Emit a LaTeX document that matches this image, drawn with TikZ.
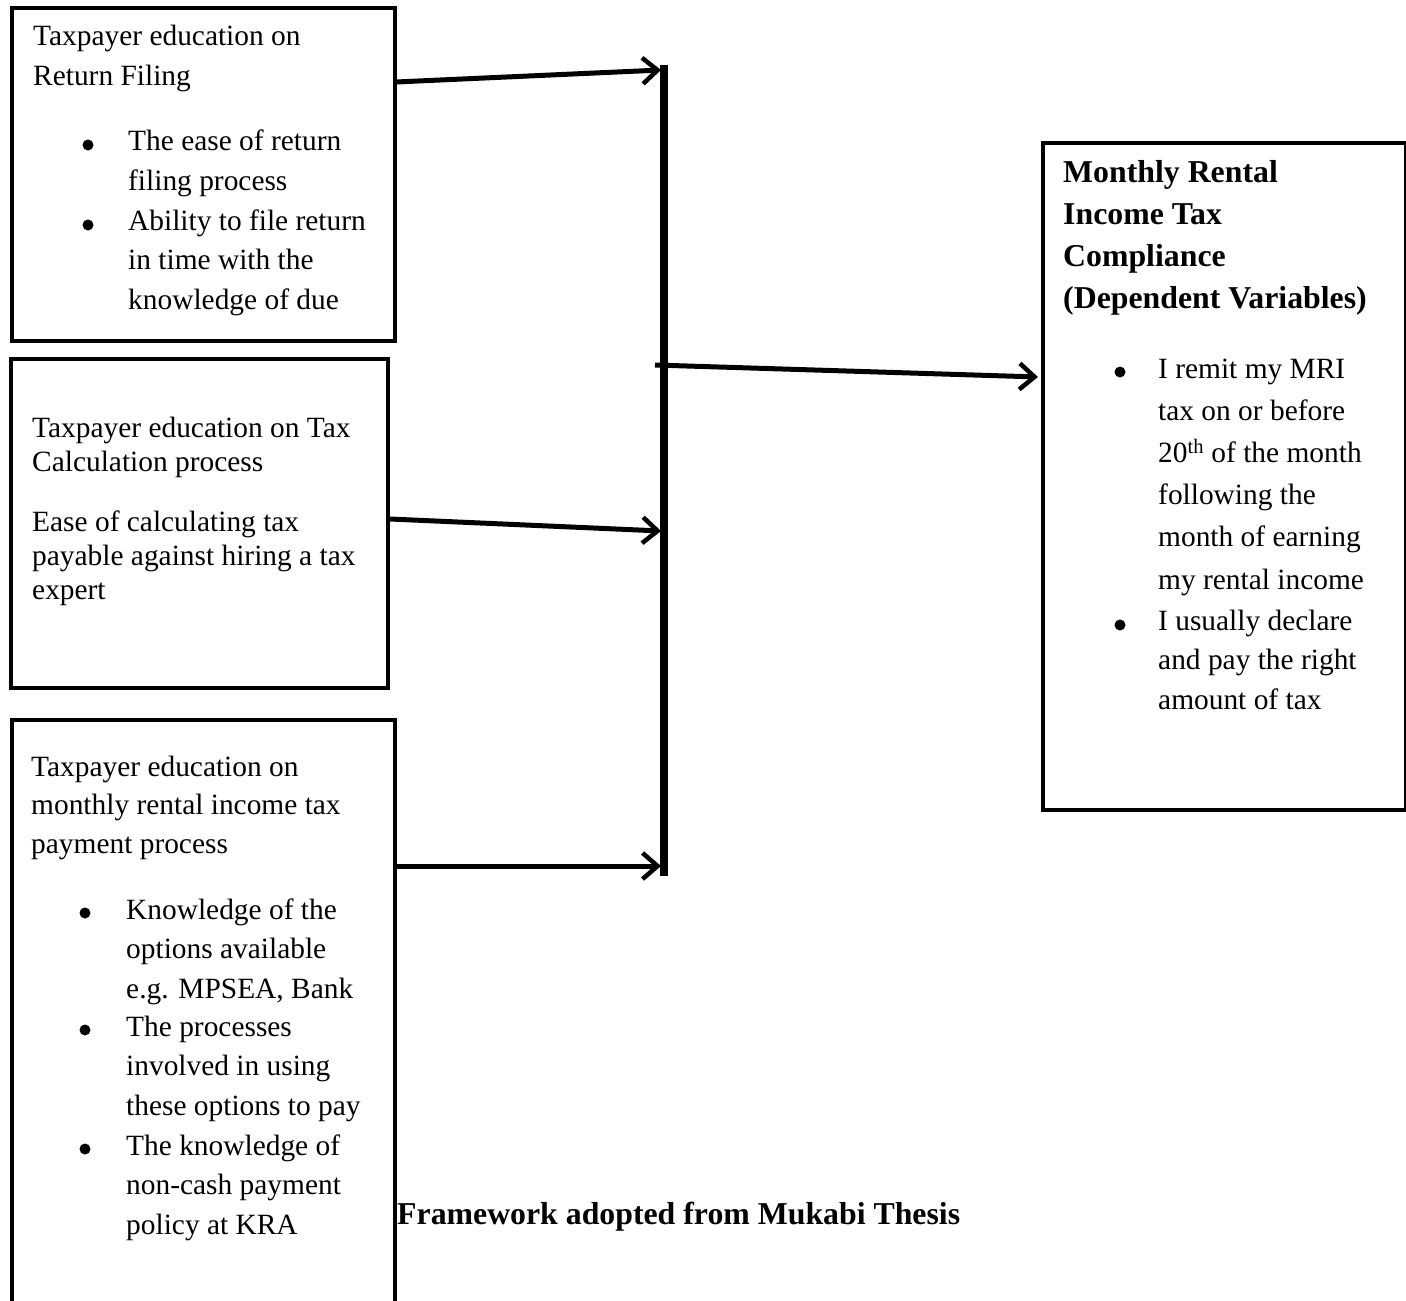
\documentclass[tikz,border=0pt]{standalone}
\usepackage{fontspec}
\setmainfont{Liberation Serif}
\usetikzlibrary{arrows.meta,positioning}

\begin{document}
\begin{tikzpicture}[x=1pt,y=-1pt,
    box/.style={draw,line width=4pt,anchor=north west,inner sep=0},
    txt/.style={font=\fontsize{29.4}{39.2}\selectfont,align=left,inner sep=0,anchor=base west},
    head/.style={font=\bfseries\fontsize{31.8}{41.8}\selectfont,align=left,inner sep=0,anchor=base west},
    dot/.style={circle,fill,inner sep=0,minimum size=11pt},
    arr/.style={line width=5pt,-{Straight Barb[length=15pt,width=26pt,line width=4.5pt]}}]
  \useasboundingbox (0,0) rectangle (1406,1301);
  \clip (0,0) rectangle (1406,1301);
  % the four boxes
  \node[box,minimum width=383pt,minimum height=333pt] (ret) at (10,6) {};
  \node[box,minimum width=377pt,minimum height=329pt] (calc) at (9,357) {};
  \node[box,minimum width=383pt,minimum height=700pt] (pay) at (10,718) {};
  \node[box,minimum width=363pt,minimum height=667pt] (comp) at (1041,141) {};
  % return filing (nodes sit on the baseline of their last line)
  \node[txt] (ret-t) at (33,85) {Taxpayer education on\\Return Filing};
  \node[dot] (ret-d1) at (88,145) {};
  \node[txt] (ret-i1) at (128,190) {The ease of return\\filing process};
  \node[dot] (ret-d2) at (88,225) {};
  \node[txt] (ret-i2) at (128,309) {Ability to file return\\in time with the\\knowledge of due};
  % tax calculation
  \node[txt,font=\fontsize{29.4}{34}\selectfont] (calc-t) at (32,471) {Taxpayer education on Tax\\Calculation process};
  \node[txt,font=\fontsize{29.4}{34}\selectfont] (calc-i) at (32,599) {Ease of calculating tax\\payable against hiring a tax\\expert};
  % payment process
  \node[txt,font=\fontsize{29.4}{38.5}\selectfont] (pay-t) at (31,853) {Taxpayer education on\\monthly rental income tax\\payment process};
  \node[dot] (pay-d1) at (85,913) {};
  \node[txt] (pay-i1) at (126,998) {Knowledge of the\\options available\\e.g. MPSEA, Bank};
  \node[dot] (pay-d2) at (85,1030) {};
  \node[txt] (pay-i2) at (126,1115) {The processes\\involved in using\\these options to pay};
  \node[dot] (pay-d3) at (85,1149) {};
  \node[txt] (pay-i3) at (126,1234) {The knowledge of\\non-cash payment\\policy at KRA};
  % compliance
  \node[head] (comp-t) at (1063,308) {Monthly Rental\\Income Tax\\Compliance\\(Dependent Variables)};
  \node[dot] (comp-d1) at (1120,372) {};
  \node[txt,font=\fontsize{29.4}{42.2}\selectfont] (comp-i1) at (1158,589) {I remit my MRI\\tax on or before\\20\textsuperscript{th} of the month\\following the\\month of earning\\my rental income};
  \node[dot] (comp-d2) at (1120,625) {};
  \node[txt] (comp-i2) at (1158,709) {I usually declare\\and pay the right\\amount of tax};
  % source
  \node[head] (src) at (397,1224) {Framework adopted from Mukabi Thesis};
  % vertical bar and arrows
  \coordinate (bartop) at (664,65);
  \coordinate (barbot) at (664,876);
  \draw[line width=8pt] (bartop) -- (barbot);
  \coordinate (s1) at (396,82);
  \coordinate (e1) at (661,70);
  \coordinate (s2) at (390,519);
  \coordinate (e2) at (661,531);
  \coordinate (s3) at (397,866);
  \coordinate (e3) at (661,866);
  \coordinate (s4) at (655,365);
  \coordinate (e4) at (1038,377);
  \draw[arr] (s1) -- (e1);
  \draw[arr] (s2) -- (e2);
  \draw[arr] (s3) -- (e3);
  \draw[arr] (s4) -- (e4);
\end{tikzpicture}
\end{document}
